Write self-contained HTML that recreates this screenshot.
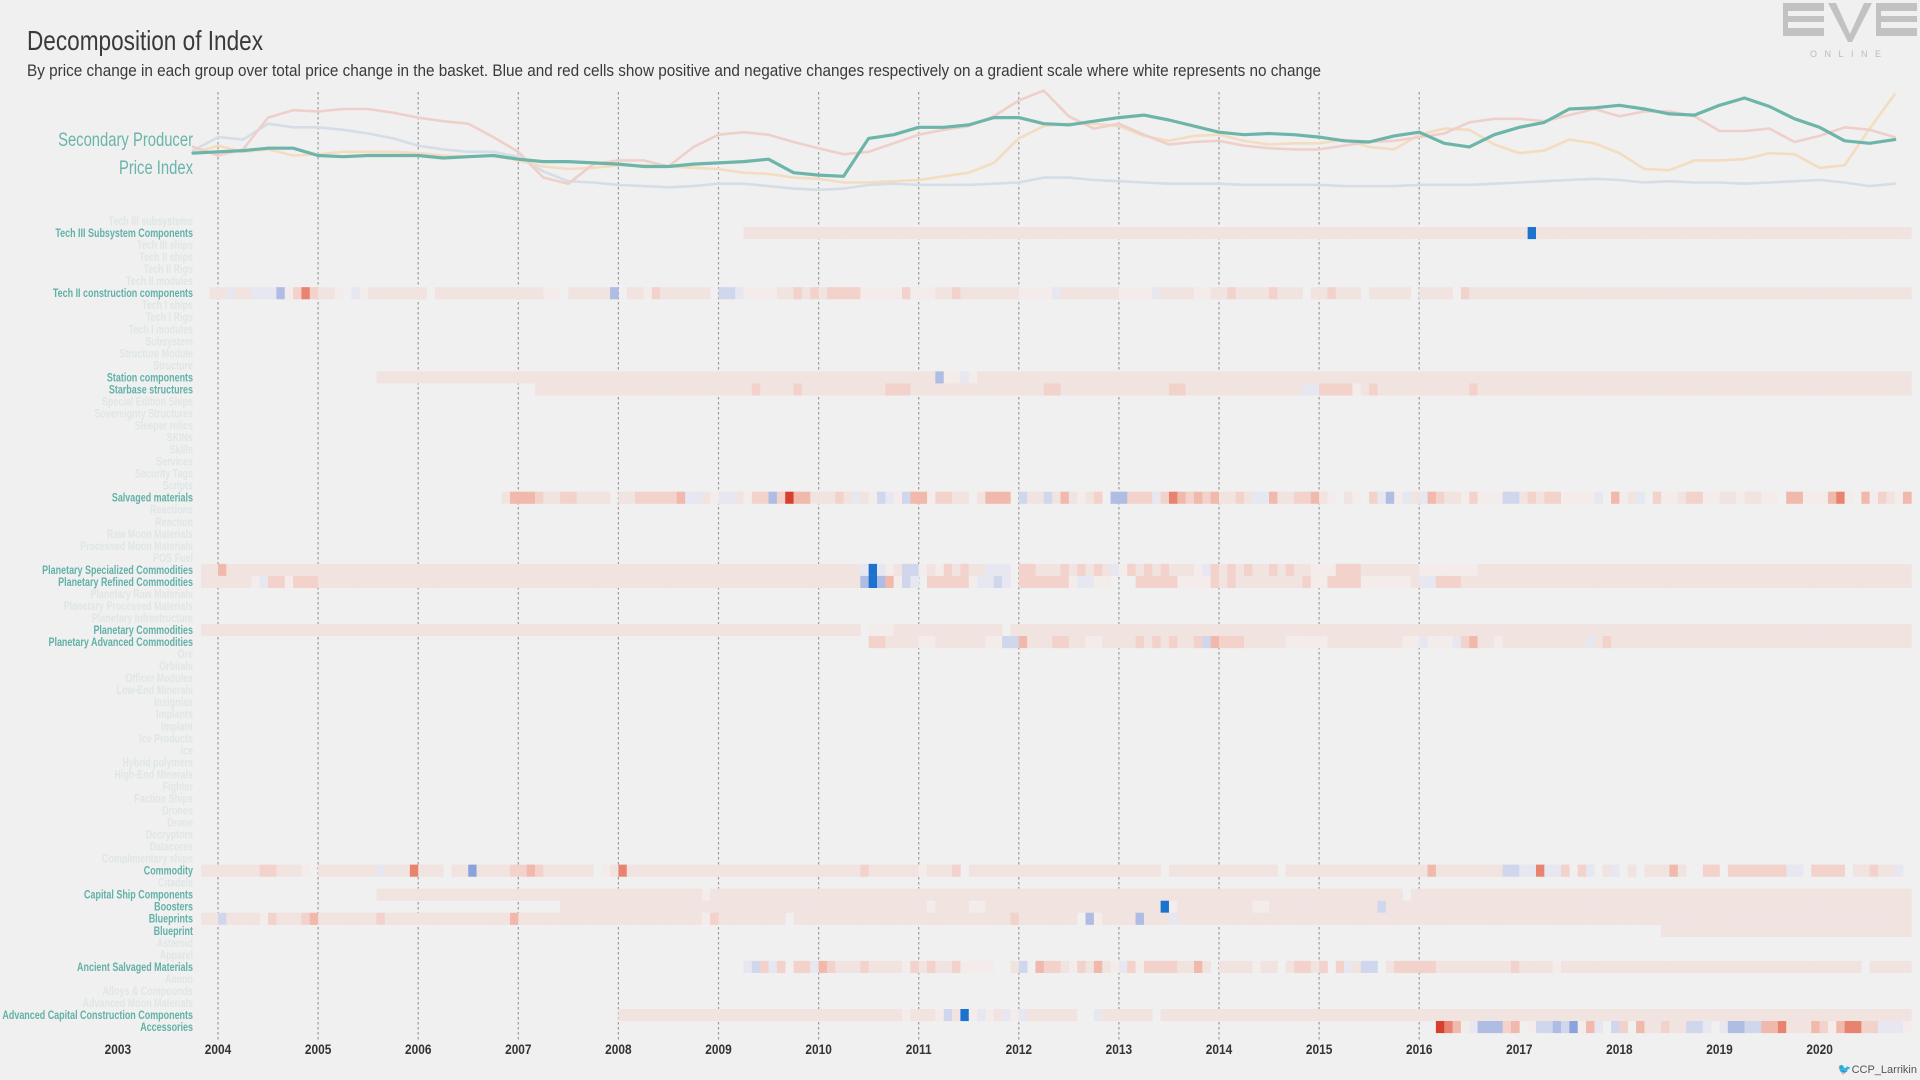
<!DOCTYPE html>
<html><head><meta charset="utf-8"><title>Decomposition of Index</title>
<style>
html,body{margin:0;padding:0;background:#f0f0f0;}
svg{display:block;}
text{font-family:"Liberation Sans Narrow","Liberation Sans",sans-serif;}
</style></head>
<body>
<svg id="chart" xmlns="http://www.w3.org/2000/svg" width="1920" height="1080" viewBox="0 0 1920 1080">
<rect x="0" y="0" width="1920" height="1080" fill="#f0f0f0"/>
<text x="27" y="50" font-size="28" fill="#3a3a3a" textLength="236" lengthAdjust="spacingAndGlyphs">Decomposition of Index</text>
<text x="27" y="76" font-size="17" fill="#3a3a3a" textLength="1294" lengthAdjust="spacingAndGlyphs">By price change in each group over total price change in the basket. Blue and red cells show positive and negative changes respectively on a gradient scale where white represents no change</text>
<g fill="#c2c2c2">
<rect x="1783" y="3" width="41" height="8"/><rect x="1783" y="16" width="41" height="6"/><rect x="1783" y="28" width="41" height="8"/><rect x="1783" y="3" width="5" height="33"/>
<polygon points="1828,3 1836,3 1850,34 1864,3 1872,3 1852,42 1848,42"/>
<rect x="1876" y="3" width="41" height="8"/><rect x="1876" y="16" width="41" height="6"/><rect x="1876" y="28" width="41" height="8"/><rect x="1876" y="3" width="5" height="33"/>
<text x="1810" y="57" font-size="9" fill="#bbbbbb" letter-spacing="7.5" font-family="Liberation Sans, sans-serif">ONLINE</text>
</g>
<text transform="translate(193,146) scale(0.78,1)" x="0" y="0" font-size="19" fill="#6ab5ab" text-anchor="end">Secondary Producer</text>
<text transform="translate(193,174) scale(0.78,1)" x="0" y="0" font-size="19" fill="#6ab5ab" text-anchor="end">Price Index</text>
<g id="gridlines"></g>
<g id="lines"></g>
<g id="heat"></g>
<g id="rowlabels"></g>
<g id="xaxis"></g>
<text x="1917" y="1073" font-size="11" fill="#555" text-anchor="end">🐦CCP_Larrikin</text>
</svg>
<script>
// ---------- data ----------
const yearTicks = [2003,2004,2005,2006,2007,2008,2009,2010,2011,2012,2013,2014,2015,2016,2017,2018,2019,2020];
const gridYears = [2004,2005,2006,2007,2008,2009,2010,2011,2012,2013,2014,2015,2016];
// top chart: quarterly from 2003.75
const lineStartYear = 2003.75;
const lineStep = 0.25;
const secondaryProducer = [35,36,37,39,39,33,32,33,33,33,31,32,33,30,28,28,27,26,24,24,26,27,28,30,19,17,16,47,50,56,56,58,64,64,59,58,61,64,66,62,57,52,50,51,50,48,45,44,49,52,43,40,50,56,60,71,72,74,71,67,66,74,80,73,63,56,45,43,46];
const seriesPink = [40,33,38,64,70,69,71,71,68,64,61,59,48,36,15,10,26,29,29,24,40,50,52,50,44,39,34,36,43,50,54,57,65,78,86,65,55,59,50,42,44,45,41,39,38,38,41,44,45,48,51,60,63,63,61,66,71,65,69,69,65,53,53,55,44,49,56,54,48];
const seriesBlue = [37,48,46,59,56,56,54,51,47,41,38,36,36,32,20,12,11,9,8,7,8,10,10,8,6,5,6,9,10,9,9,9,10,11,15,15,13,12,11,10,10,10,9,9,9,9,8,8,8,9,9,9,10,11,12,13,14,13,11,12,11,11,10,11,12,13,11,8,10];
const seriesOrange = [35,41,36,38,33,34,36,36,36,35,33,32,33,29,24,22,23,25,25,24,23,22,19,18,15,14,11,11,12,13,16,19,27,47,57,59,59,57,49,45,49,50,45,42,43,43,46,40,38,50,55,54,42,35,37,46,43,35,22,21,29,29,30,35,34,23,25,55,83];

const rowNames = ["Tech III subsystems","Tech III Subsystem Components","Tech III ships","Tech II ships","Tech II Rigs","Tech II modules","Tech II construction components","Tech I ships","Tech I Rigs","Tech I modules","Subsystem","Structure Module","Structure","Station components","Starbase structures","Special Edition Ships","Sovereignty Structures","Sleeper relics","SKINs","Skills","Services","Security Tags","Scripts","Salvaged materials","Reactions","Reaction","Raw Moon Materials","Processed Moon Materials","POS Fuel","Planetary Specialized Commodities","Planetary Refined Commodities","Planetary Raw Materials","Planetary Processed Materials","Planetary Infrastructure","Planetary Commodities","Planetary Advanced Commodities","Ore","Orbitals","Officer Modules","Low-End Minerals","Insignias","Implants","Implant","Ice Products","Ice","Hybrid polymers","High-End Minerals","Fighter","Faction Ships","Drones","Drone","Decryptors","Datacores","Complimentary ships","Commodity","Citadels","Capital Ship Components","Boosters","Blueprints","Blueprint","Asteroid","Apparel","Ancient Salvaged Materials","Ammo","Alloys & Compounds","Advanced Moon Materials","Advanced Capital Construction Components","Accessories"];
// heatmap months: month 0 = Nov 2003
const monthZeroYear = 2003 + 10/12;
const _ = null;

const t3SubCompStart = 65;
const t3SubComp = [
-1,-1,-1,-1,-1,-1,-1,-1,-1,-1,-1,-1,-1,-1,-1,-1,-1,-1,-1,-1,-1,-1,-1,-1,-1,-1,-1,-1,-1,-1,
-1,-1,-1,-1,-1,-1,-1,-1,-1,-1,-1,-1,-1,-1,-1,-1,-1,-1,-1,-1,-1,-1,-1,-1,-1,-1,-1,-1,-1,-1,
-1,-1,-1,-1,-1,-1,-1,-1,-1,-1,-1,-1,-1,-1,-1,-1,-1,-1,-1,-1,-1,-1,-1,-1,-1,-1,-1,-1,-1,-1,
-1,-1,-1,-1,5,
-1,-1,-1,-1,-1,-1,-1,-1,-1,-1,-1,-1,-1,-1,-1,-1,-1,-1,-1,-1,-1,-1,-1,-1,-1,-1,-1,-1,-1,-1,
-1,-1,-1,-1,-1,-1,-1,-1,-1,-1,-1,-1,-1,-1,-1];

const t2ConstrStart = 1;
const t2Constr = [
-1,-1,1,-1,-1,1,1,1,3,0,-2,-4,-2,-1,-1,0,_,1,0,
-1,-1,-1,-1,-1,-1,-1,_,-1,-1,-1,-1,-1,-1,
-1,-1,-1,-1,-1,-1,-1,0,0,_,-1,-1,-1,-1,-1,3,_,-1,-1,0,-2,
-1,-1,-1,-1,-1,-1,_,2,2,1,0,0,0,0,-1,-1,-2,-1,-2,-1,-2,-2,-2,-2,
0,0,0,0,0,-2,0,0,0,-1,-1,-2,-1,-1,-1,-1,-1,-1,-1,0,0,0,0,1,
-1,-1,-1,-1,-1,-1,-1,0,0,0,0,1,-1,-1,-1,-1,0,0,
-1,-1,-2,-1,-1,-1,-1,-2,-1,-1,-1,_,-1,-1,-2,-1,-1,-1,_,-1,-1,-1,-1,-1,_,-1,-1,-1,-1,_,-2,
-1,-1,-1,-1,-1,-1,-1,-1,-1,-1,-1,-1,-1,-1,-1,-1,-1,-1,-1,-1,-1,-1,-1,-1,-1,-1,-1,-1,-1,-1,
-1,-1,-1,-1,-1,-1,-1,-1,-1,-1,-1,-1,-1,-1,-1,-1,-1,-1,-1,-1,-1,-1,-1];

const stationStart = 21;
const station = [
-1,-1,-1,-1,-1,-1,-1,-1,-1,-1,-1,-1,-1,-1,-1,-1,-1,-1,-1,-1,-1,-1,-1,-1,-1,-1,-1,-1,-1,-1,
-1,-1,-1,-1,-1,-1,-1,-1,-1,-1,-1,-1,-1,-1,-1,-1,-1,-1,-1,-1,-1,-1,-1,-1,-1,-1,-1,-1,-1,-1,
-1,-1,-1,-1,-1,-1,-1,
3,0,0,1,0,
-1,-1,-1,-1,-1,-1,-1,-1,-1,-1,-1,-1,-1,-1,-1,-1,-1,-1,-1,-1,-1,-1,-1,-1,-1,-1,-1,-1,-1,-1,
-1,-1,-1,-1,-1,-1,-1,-1,-1,-1,-1,-1,-1,-1,-1,-1,-1,-1,-1,-1,-1,-1,-1,-1,-1,-1,-1,-1,-1,-1,
-1,-1,-1,-1,-1,-1,-1,-1,-1,-1,-1,-1,-1,-1,-1,-1,-1,-1,-1,-1,-1,-1,-1,-1,-1,-1,-1,-1,-1,-1,
-1,-1,-1,-1,-1,-1,-1,-1,-1,-1,-1,-1,-1,-1,-1,-1,-1,-1,-1,-1,-1,-1];

const starbaseStart = 40;
const starbase = [
-1,-1,-1,-1,-1,-1,-1,-1,-1,-1,-1,-1,-1,-1,-1,-1,-1,-1,-1,-1,-1,-1,-1,-1,-1,-1,
-2,-1,-1,-1,-1,-2,-1,-1,-1,-1,-1,-1,-1,-1,-1,-1,-2,-2,-2,
-1,-1,-1,-1,-1,-1,-1,-1,-1,-1,-1,-1,-1,-1,-1,-1,-2,-2,
-1,-1,-1,-1,-1,-1,-1,-1,-1,-1,-1,-1,-1,-2,-2,
-1,-1,-1,-1,-1,-1,-1,-1,-1,-1,-1,-1,-1,-1,1,1,-2,-2,-2,-2,0,-1,-2,
-1,-1,-1,-1,-1,-1,-1,-1,-1,-1,-1,-2,
-1,-1,-1,-1,-1,-1,-1,-1,-1,-1,-1,-1,-1,-1,-1,-1,-1,-1,-1,-1,-1,-1,-1,-1,-1,-1,
-1,-1,-1,-1,-1,-1,-1,-1,-1,-1,-1,-1,-1,-1,-1,-1,-1,-1,-1,-1,-1,-1,-1,-1,-1,-1];

const salvagedStart = 36;
const salvaged = [
-1,-3,-3,-3,-2,-1,-1,-2,-2,-1,-1,-1,-1,_,-1,-1,-2,-2,-2,-2,-2,-3,1,1,-1,0,1,1,-1,0,
-2,-2,3,-2,-5,-3,-3,-1,-1,-1,-2,-1,1,-1,0,2,1,0,2,-3,-3,0,-2,-2,-1,-1,_,-1,-3,-3,
-3,_,2,-1,-1,2,-1,-3,-1,0,-1,-2,_,3,3,-2,-2,-2,1,-2,-4,-3,-2,-3,-2,-3,-1,-1,-2,-1,
1,1,-3,-1,-1,-2,-2,-3,-1,0,_,-1,0,_,-2,1,3,0,1,-1,1,-3,-2,-1,-1,0,-2,0,0,0,
2,2,-1,-2,-1,-2,-2,0,0,0,0,1,_,-3,0,-1,1,_,-2,0,0,-1,-2,-2,0,0,-1,-1,0,-1,
-1,0,0,_,-3,-3,0,0,0,-3,-4,0,_,-3,0,-2,-1,0,-3];

const planSpecStart = 0;
const planSpec = [
-1,-1,-3,-1,-1,-1,-1,-1,-1,-1,-1,-1,-1,-1,-1,-1,-1,-1,-1,-1,-1,-1,-1,-1,-1,-1,-1,-1,-1,-1,
-1,-1,-1,-1,-1,-1,-1,-1,-1,-1,-1,-1,-1,-1,-1,-1,-1,-1,-1,-1,-1,-1,-1,-1,-1,-1,-1,-1,-1,-1,
-1,-1,-1,-1,-1,-1,-1,-1,-1,-1,-1,-1,-1,-1,-1,-1,-1,-1,-1,
1,5,1,0,-1,2,2,0,-1,0,-2,-1,-2,-1,-1,1,1,1,_,-2,-2,-1,-1,-1,-2,-1,-2,-1,-2,-1,
1,0,-2,-1,-2,-1,-2,-1,-1,-1,0,1,-2,-1,-2,-1,-2,-1,-1,-2,-1,-2,-1,-1,0,0,0,-2,-2,-2,
-1,-1,-1,-1,-1,-1,-1,0,0,0,0,0,0,0,
-1,-1,-1,-1,-1,-1,-1,-1,-1,-1,-1,-1,-1,-1,-1,-1,-1,-1,-1,-1,-1,-1,-1,-1,-1,-1,
-1,-1,-1,-1,-1,-1,-1,-1,-1,-1,-1,-1,-1,-1,-1,-1,-1,-1,-1,-1,-1,-1,-1,-1,-1,-1];

const planRefStart = 0;
const planRef = [
-1,-1,-1,-1,-1,-1,0,1,-2,-2,0,-2,-2,-2,
-1,-1,-1,-1,-1,-1,-1,-1,-1,-1,-1,-1,-1,-1,-1,-1,-1,-1,-1,-1,-1,-1,-1,-1,-1,-1,-1,-1,-1,-1,
-1,-1,-1,-1,-1,-1,-1,-1,-1,-1,-1,-1,-1,-1,-1,-1,-1,-1,-1,-1,-1,-1,-1,-1,-1,-1,-1,-1,-1,-1,
-1,-1,-1,-1,-1,
3,5,3,-3,0,2,1,_,-2,-2,-2,-2,-2,0,1,1,2,1,_,-2,-2,-2,-2,-2,-2,0,1,1,0,0,_,_,_,
-2,-2,-2,-2,-2,0,0,0,0,-2,-1,-2,-1,-1,-1,-1,-1,-1,-1,-1,-2,0,0,-2,-2,-2,-2,
0,0,0,0,0,0,-1,1,1,-2,-2,-2,
-1,-1,-1,-1,-1,-1,-1,-1,-1,-1,-1,-1,-1,-1,-1,-1,-1,-1,-1,-1,-1,-1,-1,-1,-1,-1,-1,
-1,-1,-1,-1,-1,-1,-1,-1,-1,-1,-1,-1,-1,-1,-1,-1,-1,-1,-1,-1,-1,-1,-1,-1,-1,-1,-1];

const planCommStart = 0;
const planComm = [
-1,-1,-1,-1,-1,-1,-1,-1,-1,-1,-1,-1,-1,-1,-1,-1,-1,-1,-1,-1,-1,-1,-1,-1,-1,-1,-1,-1,-1,-1,
-1,-1,-1,-1,-1,-1,-1,-1,-1,-1,-1,-1,-1,-1,-1,-1,-1,-1,-1,-1,-1,-1,-1,-1,-1,-1,-1,-1,-1,-1,
-1,-1,-1,-1,-1,-1,-1,-1,-1,-1,-1,-1,-1,-1,-1,-1,-1,-1,-1,
_,0,0,0,
-1,-1,-1,-1,-1,-1,-1,-1,-1,-1,-1,-1,-1,_,
-1,-1,-1,-1,-1,-1,-1,-1,-1,-1,-1,-1,-1,-1,-1,-1,-1,-1,-1,-1,-1,-1,-1,-1,-1,-1,-1,-1,-1,-1,
-1,-1,-1,-1,-1,-1,-1,-1,-1,-1,-1,-1,-1,-1,-1,-1,-1,-1,-1,-1,-1,-1,-1,-1,-1,-1,-1,-1,-1,-1,
-1,-1,-1,-1,-1,-1,-1,-1,-1,-1,-1,-1,-1,-1,-1,-1,-1,-1,-1,-1,-1,-1,-1,-1,-1,-1,-1,-1,-1,-1,
-1,-1,-1,-1,-1,-1,-1,-1,-1,-1,-1,-1,-1,-1,-1,-1,-1,-1];

const planAdvStart = 80;
const planAdv = [
-2,-2,-1,-1,-1,-1,0,0,-1,-1,-1,-1,-1,-1,0,0,2,2,-3,-1,-1,-1,-2,-2,-1,-1,0,0,-1,-1,
-1,-1,-2,-1,-2,-1,-2,-1,-1,-2,2,-3,-2,-2,-2,-1,-1,-1,-1,-1,0,0,0,0,0,
-1,-1,-1,-1,-1,-1,-1,-1,-1,0,0,1,0,0,0,1,-2,-3,-1,-1,0,
-1,-1,-1,-1,-1,-1,-1,-1,-1,-1,1,-1,-2,
-1,-1,-1,-1,-1,-1,-1,-1,-1,-1,-1,-1,-1,-1,-1,-1,-1,-1,-1,-1,-1,-1,-1,-1,-1,-1,-1,-1,-1,-1,
-1,-1,-1,-1,-1,-1];

const commodityStart = 0;
const commodity = [
-1,-1,-1,-1,-1,-1,-1,-2,-2,-1,-1,-1,0,_,-1,-1,-1,-1,-1,-1,-1,1,-1,-1,-1,-4,-1,-1,-1,_,
-1,-1,4,-1,-1,-1,-1,-2,-2,-3,-2,-1,-1,-1,-1,-1,-1,_,0,-1,-4,
-1,-1,-1,-1,-1,-1,-1,-1,-1,-1,-1,-1,-1,-1,-1,-1,-1,-1,-1,-1,-1,-1,-1,-1,-1,-1,-1,-1,
-2,-1,-1,-1,-1,-1,-1,0,-1,-1,-1,-2,_,
-1,-1,-1,-1,-1,-1,-1,-1,-1,-1,-1,-1,-1,-1,-1,-1,-1,-1,-1,-1,-1,-1,-1,_,
-1,-1,-1,-1,-1,-1,-1,-1,-1,-1,-1,-1,-1,_,
-1,-1,-1,-1,-1,-1,-1,-1,-1,-1,-1,-1,-1,-1,-1,-1,-1,-3,-1,-1,-1,-1,-1,-1,-1,-1,
2,2,1,1,-4,1,1,-2,_,-2,1,_,-1,1,_,-1,_,-1,-1,-1,-3,-1,_,_,-2,-2,_,
-2,-2,-2,-2,-2,-2,-2,1,1,_,-2,-2,-2,-2,_,-1,-1,-2,-1,-1,1,_];

const capShipStart = 21;
const capShip = [
-1,-1,-1,-1,-1,-1,-1,-1,-1,-1,-1,-1,-1,-1,-1,-1,-1,-1,-1,-1,-1,-1,-1,-1,-1,-1,-1,-1,-1,-1,
-1,-1,-1,-1,-1,-1,-1,-1,-1,0,
-1,-1,-1,-1,-1,-1,-1,-1,-1,-1,-1,-1,-1,-1,-1,-1,-1,-1,-1,-1,-1,-1,-1,-1,-1,-1,-1,-1,-1,-1,
-1,-1,-1,-1,-1,-1,-1,-1,-1,-1,-1,-1,-1,-1,-1,-1,-1,-1,-1,-1,-1,-1,-1,-1,-1,-1,-1,-1,-1,-1,
-1,-1,-1,-1,-1,-1,-1,-1,-1,-1,-1,-1,-1,-1,-1,-1,-1,-1,-1,-1,-1,-1,-1,_,
-1,-1,-1,-1,-1,-1,-1,-1,-1,-1,-1,-1,-1,-1,-1,-1,-1,-1,-1,-1,-1,-1,-1,-1,-1,-1,-1,-1,-1,-1,
-1,-1,-1,-1,-1,-1,-1,-1,-1,-1,-1,-1,-1,-1,-1,-1,-1,-1,-1,-1,-1,-1,-1,-1,-1,-1,-1,-1,-1,-1];

const boostersStart = 43;
const boosters = [
-1,-1,-1,-1,-1,-1,-1,-1,-1,-1,-1,-1,-1,-1,-1,-1,-1,-1,-1,-1,-1,-1,-1,-1,-1,-1,-1,-1,-1,-1,
-1,-1,-1,-1,-1,-1,-1,-1,-1,-1,-1,-1,-1,-1,0,-1,-1,-1,-1,0,0,
-1,-1,-1,-1,-1,-1,-1,-1,-1,-1,-1,-1,-1,-1,-1,-1,-1,-1,-1,-1,-1,5,0,
-1,-1,-1,-1,-1,-1,-1,-1,-1,0,0,
-1,-1,-1,-1,-1,-1,-1,-1,-1,-1,-1,-1,-1,2,
-1,-1,-1,-1,-1,-1,-1,-1,-1,-1,-1,-1,-1,-1,-1,-1,-1,-1,-1,-1,-1,-1,-1,-1,-1,-1,-1,-1,-1,-1,
-1,-1,-1,-1,-1,-1,-1,-1,-1,-1,-1,-1,-1,-1,-1,-1,-1,-1,-1,-1,-1,-1,-1,-1,-1,-1,-1,-1,-1,-1,
-1,-1,-1];

const blueprintsStart = 0;
const blueprints = [
-1,-1,2,-1,-1,-1,-1,0,-2,-1,-1,-1,-2,-3,-1,-1,-1,-1,-1,-1,-1,-2,
-1,-1,-1,-1,-1,-1,-1,-1,-1,-1,-1,-1,-1,-1,-1,-3,
-1,-1,-1,-1,-1,-1,-1,-1,-1,-1,-1,-1,-1,-1,-1,-1,-1,-1,-1,-1,-1,-1,0,-2,
-1,-1,-1,-1,-1,-1,-1,-1,_,
-1,-1,-1,-1,-1,-1,-1,-1,-1,-1,-1,-1,-1,-1,-1,-1,-1,-1,-1,-1,-1,-1,-1,-1,-1,-1,-2,
-1,-1,-1,-1,-1,-1,-1,_,3,0,-1,-1,-1,-1,3,-1,-1,-1,1,
-1,-1,-1,-1,-1,-1,-1,-1,-1,-1,-1,-1,-1,-1,-1,-1,-1,-1,-1,-1,-1,-1,-1,-1,-1,-1,-1,-1,-1,-1,
-1,-1,-1,-1,-1,-1,-1,-1,-1,-1,-1,-1,-1,-1,-1,-1,-1,-1,-1,-1,-1,-1,-1,-1,-1,-1,-1,-1,-1,-1,
-1,-1,-1,-1,-1,-1,-1,-1,-1,-1,-1,-1,-1,-1,-1,-1,-1,-1,-1,-1,-1,-1,-1,-1,-1,-1,-1,-1];

const blueprintStart = 175;
const blueprint = [
-1,-1,-1,-1,-1,-1,-1,-1,-1,-1,-1,-1,-1,-1,-1,-1,-1,-1,-1,-1,-1,-1,-1,-1,-1,-1,-1,-1,-1,-1];

const ancientStart = 65;
const ancient = [
1,2,-2,1,-2,_,-2,-2,1,-3,-2,-1,-1,-1,-2,-1,-1,-1,-1,0,-2,-1,-2,-1,-1,-2,0,0,0,0,
_,_,-1,2,_,-3,-2,-2,-1,0,-2,-1,-3,-1,0,1,-2,0,-2,-2,-2,-2,-1,-1,-3,-1,_,
-1,-1,-1,-1,0,-1,-1,_,-1,-2,-2,-1,-2,_,-2,1,-1,2,2,_,-1,-2,-2,-2,-2,-2,
-1,-1,-1,-1,-1,-1,-1,-1,-1,-2,-1,-1,-1,-1,0,
-1,-1,-1,-1,-1,-1,-1,-1,-1,-1,-1,-1,-1,-1,-1,-1,-1,-1,-1,-1,-1,-1,-1,-1,-1,-1,-1,-1,-1,-1,
-1,-1,-1,-1,-1,-1,_,-1,-1,-1,-1,-1];

const advCapStart = 50;
const advCap = [
-1,-1,-1,-1,-1,-1,-1,-1,-1,-1,-1,-1,-1,-1,-1,-1,-1,-1,-1,-1,-1,-1,-1,-1,-1,-1,-1,-1,-1,-1,
-1,-1,-1,-1,0,-1,-1,-1,0,2,-1,5,0,1,0,-1,1,0,1,-1,-1,-1,-1,-1,-1,_,_,1,
-1,-1,-1,-1,-1,-1,_,
-1,-1,-1,-1,-1,-1,-1,-1,-1,-1,-1,-1,-1,-1,-1,-1,-1,-1,-1,-1,-1,-1,-1,-1,-1,-1,-1,-1,-1,-1,
-1,-1,-1,-1,-1,-1,-1,-1,-1,-1,-1,-1,-1,-1,-1,-1,-1,-1,-1,-1,-1,-1,-1,-1,-1,-1,-1,-1,-1,-1,
-1,-1,-1,-1,-1,-1,-1,-1,-1,-1,-1,-1,-1,-1,-1,-1,-1,-1,-1,-1,-1,-1,-1,-1,-1,-1,-1,-1,-1,-1];

const accessoriesStart = 148;
const accessories = [
-5,-4,-3,0,1,3,3,3,-2,-3,_,0,2,2,3,2,4,0,-3,1,_,2,-2,_,-3,-1,-1,-2,-1,-1,
2,2,1,_,1,3,3,2,2,-3,-3,-4,-1,-1,-1,-3,-2,0,-3,-4,-4,-2,-2,1,1,1,0];

const activeRows = [
 ["Tech III Subsystem Components", t3SubCompStart, t3SubComp],
 ["Tech II construction components", t2ConstrStart, t2Constr],
 ["Station components", stationStart, station],
 ["Starbase structures", starbaseStart, starbase],
 ["Salvaged materials", salvagedStart, salvaged],
 ["Planetary Specialized Commodities", planSpecStart, planSpec],
 ["Planetary Refined Commodities", planRefStart, planRef],
 ["Planetary Commodities", planCommStart, planComm],
 ["Planetary Advanced Commodities", planAdvStart, planAdv],
 ["Commodity", commodityStart, commodity],
 ["Capital Ship Components", capShipStart, capShip],
 ["Boosters", boostersStart, boosters],
 ["Blueprints", blueprintsStart, blueprints],
 ["Blueprint", blueprintStart, blueprint],
 ["Ancient Salvaged Materials", ancientStart, ancient],
 ["Advanced Capital Construction Components", advCapStart, advCap],
 ["Accessories", accessoriesStart, accessories]
];

// ---------- scales ----------
const NS = "http://www.w3.org/2000/svg";
function xScale(t){ return 218 + (t - 2004) * 100.1; }
function yLine(v){ return (160 - v) * 1.2245; }
function rowY(i){ return 221 + i * 12.03; }
function monthX(m){ return xScale(monthZeroYear + m / 12); }
const redScale = ['#f3ecea','#f0e3e0','#f2d2cb','#f1b8ac','#e8836f','#d6402f'];
const blueScale = ['#f3ecea','#e6e7f0','#d0d6ec','#afbce4','#8aa3dc','#1b72cf'];
function color(v){
  const k = Math.min(5, Math.round(Math.abs(v)));
  return v < 0 ? redScale[k] : blueScale[k];
}
function mk(tag, attrs, parent){
  const e = document.createElementNS(NS, tag);
  for (const k in attrs) e.setAttribute(k, attrs[k]);
  parent.appendChild(e);
  return e;
}

// gridlines
const gg = document.getElementById('gridlines');
gridYears.forEach(y => {
  const l = mk('line', {x1: xScale(y), x2: xScale(y), y1: 92, y2: 1040, stroke: '#9a9a9a', 'stroke-width': 1.2, 'stroke-dasharray': '2.5,2.5'}, gg);
  
  
});

// lines
const lg = document.getElementById('lines');
function drawLine(vals, stroke, width, name){
  const pts = vals.map((v, k) => xScale(lineStartYear + k * lineStep).toFixed(1) + ',' + yLine(v).toFixed(1)).join(' ');
  const p = mk('polyline', {points: pts, fill: 'none', stroke: stroke, 'stroke-width': width, 'stroke-linejoin': 'round', 'stroke-linecap': 'round'}, lg);
  
  
}
drawLine(seriesBlue, '#d5dde6', 2.6, 'line-blue-series');
drawLine(seriesOrange, '#f4dcc0', 2.6, 'line-orange-series');
drawLine(seriesPink, '#efcfca', 2.6, 'line-pink-series');
drawLine(secondaryProducer, '#6db5a9', 3.2, 'line-secondary-producer');

// heatmap
const hg = document.getElementById('heat');
activeRows.forEach(r => {
  const idx = rowNames.indexOf(r[0]);
  const yc = rowY(idx);
  r[2].forEach((v, j) => {
    if (v === null) return;
    const m = r[1] + j;
    const x0 = monthX(m), x1 = monthX(m + 1);
    const c = mk('rect', {x: x0.toFixed(2), y: (yc - 6).toFixed(2), width: (x1 - x0 + 0.3).toFixed(2), height: 12.1, fill: color(v)}, hg);
    
    
  });
});

// row labels
const rg = document.getElementById('rowlabels');
const activeNames = activeRows.map(r => r[0]);
rowNames.forEach((n, i) => {
  const on = activeNames.indexOf(n) >= 0;
  const t = mk('text', {transform: 'translate(193,' + (rowY(i) + 4).toFixed(1) + ') scale(0.78,1)', x: 0, y: 0, 'text-anchor': 'end', 'font-size': 11.5, 'font-weight': 'bold', fill: on ? '#62b1a7' : '#dfe6e5'}, rg);
  t.textContent = n;
  
  
});

// x axis
const xg = document.getElementById('xaxis');
yearTicks.forEach(y => {
  const t = mk('text', {transform: 'translate(' + xScale(y).toFixed(1) + ',1054) scale(0.85,1)', x: 0, y: 0, 'text-anchor': 'middle', 'font-size': 14, 'font-weight': 'bold', fill: '#333'}, xg);
  t.textContent = y;
  
  
});
</script>
</body></html>
